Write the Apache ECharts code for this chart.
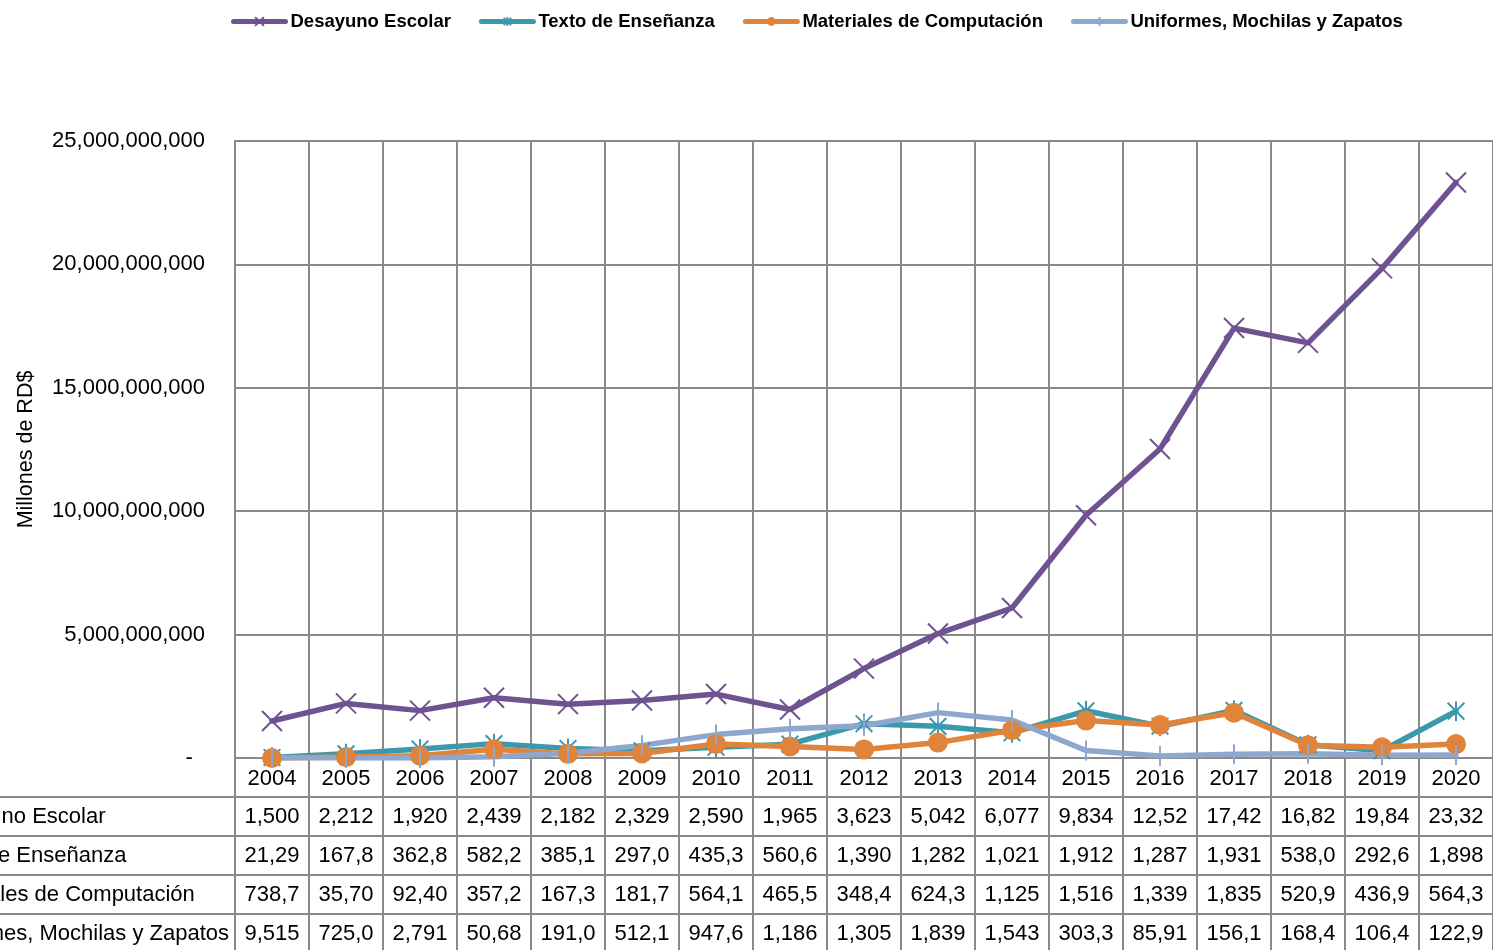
<!DOCTYPE html>
<html>
<head>
<meta charset="utf-8">
<script src="https://cdn.jsdelivr.net/npm/echarts@6/dist/echarts.min.js"></script>
<style>
  html, body { margin: 0; padding: 0; background: #fff; }
  #chart { width: 1493px; height: 950px; }
</style>
</head>
<body>
<div id="chart"></div>
<script>
// datos (RD$)
var years = ['2004', '2005', '2006', '2007', '2008', '2009', '2010', '2011', '2012',
    '2013', '2014', '2015', '2016', '2017', '2018', '2019', '2020'];
var desayuno = [1500e6, 2212e6, 1920e6, 2439e6, 2182e6, 2329e6, 2590e6, 1965e6, 3623e6,
    5042e6, 6077e6, 9834e6, 12520e6, 17420e6, 16820e6, 19840e6, 23320e6];
var texto = [21.29e6, 167.8e6, 362.8e6, 582.2e6, 385.1e6, 297.0e6, 435.3e6, 560.6e6, 1390e6,
    1282e6, 1021e6, 1912e6, 1287e6, 1931e6, 538.0e6, 292.6e6, 1898e6];
var materiales = [738.7e3, 35.70e6, 92.40e6, 357.2e6, 167.3e6, 181.7e6, 564.1e6, 465.5e6, 348.4e6,
    624.3e6, 1125e6, 1516e6, 1339e6, 1835e6, 520.9e6, 436.9e6, 564.3e6];
var uniformes = [9.515e6, 725.0e3, 2.791e6, 50.68e6, 191.0e6, 512.1e6, 947.6e6, 1186e6, 1305e6,
    1839e6, 1543e6, 303.3e6, 85.91e6, 156.1e6, 168.4e6, 106.4e6, 122.9e6];
var seriesNames = ['Desayuno Escolar', 'Texto de Enseñanza', 'Materiales de Computación',
    'Uniformes, Mochilas y Zapatos'];

var FONT = '"Liberation Sans", Arial, sans-serif';
var GRID_COLOR = '#898989';
var rows = [desayuno, texto, materiales, uniformes];

function fmt(v) {
    return Math.round(v).toString().replace(/\B(?=(\d{3})+(?!\d))/g, ',');
}
// la tabla de Excel corta el número a 5 caracteres
function cellText(v) {
    return fmt(v).slice(0, 5);
}

var tableData = [];
for (var r = 0; r < rows.length; r++) {
    for (var c = 0; c < years.length; c++) {
        tableData.push([c, r]);
    }
}

function lineSeries(name, data, color, symbol, size, borderWidth) {
    return {
        name: name,
        type: 'line',
        data: data,
        xAxisIndex: 0,
        yAxisIndex: 0,
        symbol: symbol,
        symbolSize: size,
        symbolKeepAspect: true,
        showAllSymbol: true,
        lineStyle: { width: 5.5, color: color, cap: 'round', join: 'round' },
        itemStyle: { color: color, borderColor: color, borderWidth: borderWidth },
        emphasis: { disabled: true }
    };
}

// marcadores (trazos)
var SYM_X = 'path://M0,0L10,10M10,0L0,10';
var SYM_STAR = 'path://M0,0L10,10M10,0L0,10M5,-1L5,11M-1,5L-1,5M11,5L11,5';
var SYM_BAR = 'path://M5,0L5,10M0,5L0,5M10,5L10,5';

var chart = echarts.init(document.getElementById('chart'));
var option = {
    animation: false,
    textStyle: { fontFamily: FONT },
    legend: {
        data: seriesNames,
        top: 7,
        left: 226,
        itemWidth: 52,
        itemHeight: 11,
        itemGap: 28,
        lineStyle: { width: 5, cap: 'round' },
        textStyle: { fontFamily: FONT, fontSize: 18.5, fontWeight: 'bold', color: '#000' }
    },
    grid: [
        { left: 235, right: 0, top: 141, height: 617, outerBoundsMode: 'none', containLabel: false },
        { left: 235, right: 0, top: 797, height: 156, outerBoundsMode: 'none', containLabel: false }
    ],
    xAxis: [{
        type: 'category',
        gridIndex: 0,
        data: years,
        boundaryGap: true,
        axisLine: { show: true, lineStyle: { color: GRID_COLOR, width: 2 } },
        axisTick: { show: true, length: 39, lineStyle: { color: GRID_COLOR, width: 2 } },
        splitLine: { show: true, lineStyle: { color: GRID_COLOR, width: 2 } },
        axisLabel: {
            color: '#000', fontSize: 22, fontFamily: FONT,
            margin: 21, verticalAlign: 'middle', interval: 0
        }
    }, {
        type: 'category',
        gridIndex: 1,
        data: years,
        boundaryGap: true,
        axisLine: { show: false },
        axisTick: { show: false },
        axisLabel: { show: false },
        splitLine: { show: true, lineStyle: { color: GRID_COLOR, width: 2 } }
    }],
    yAxis: [{
        type: 'value',
        gridIndex: 0,
        min: 0,
        max: 25e9,
        interval: 5e9,
        name: 'Millones de RD$',
        nameLocation: 'middle',
        nameGap: 198,
        nameTextStyle: { color: '#000', fontSize: 21.5, fontFamily: FONT },
        axisLine: { show: true, lineStyle: { color: GRID_COLOR, width: 2 } },
        axisTick: { show: false },
        splitLine: { show: true, lineStyle: { color: GRID_COLOR, width: 2 } },
        axisLabel: {
            color: '#000', fontSize: 22, fontFamily: FONT, margin: 30,
            formatter: function (v) { return v === 0 ? '-  ' : fmt(v); }
        }
    }, {
        type: 'category',
        gridIndex: 1,
        data: ['0', '1', '2', '3'],
        inverse: true,
        boundaryGap: true,
        axisLine: { show: true, lineStyle: { color: GRID_COLOR, width: 2 } },
        axisTick: { show: true, length: 240, lineStyle: { color: GRID_COLOR, width: 2 } },
        splitLine: { show: true, lineStyle: { color: GRID_COLOR, width: 2 } },
        // etiquetas alineadas a la izquierda, cortadas por el borde como en el original
        axisLabel: {
            color: '#000', fontSize: 22, fontFamily: FONT, margin: 308, interval: 0,
            align: 'left',
            formatter: function (v) { return seriesNames[+v]; }
        }
    }],
    series: [
        lineSeries(seriesNames[0], desayuno, '#6f5290', SYM_X, 20, 2),
        lineSeries(seriesNames[1], texto, '#3b98ad', SYM_STAR, 20, 2),
        lineSeries(seriesNames[2], materiales, '#e0833b', 'circle', 20, 0),
        lineSeries(seriesNames[3], uniformes, '#8ea7cf', SYM_BAR, 20, 2),
        {
            name: 'tabla',
            type: 'custom',
            xAxisIndex: 1,
            yAxisIndex: 1,
            silent: true,
            data: tableData,
            renderItem: function (params, api) {
                var c = api.value(0), r = api.value(1);
                var p = api.coord([c, r]);
                return {
                    type: 'text',
                    x: p[0],
                    y: p[1],
                    style: {
                        text: cellText(rows[r][c]),
                        fill: '#000',
                        font: '22px ' + FONT,
                        align: 'center',
                        verticalAlign: 'middle'
                    }
                };
            }
        }
    ]
};
chart.setOption(option);
</script>
</body>
</html>
